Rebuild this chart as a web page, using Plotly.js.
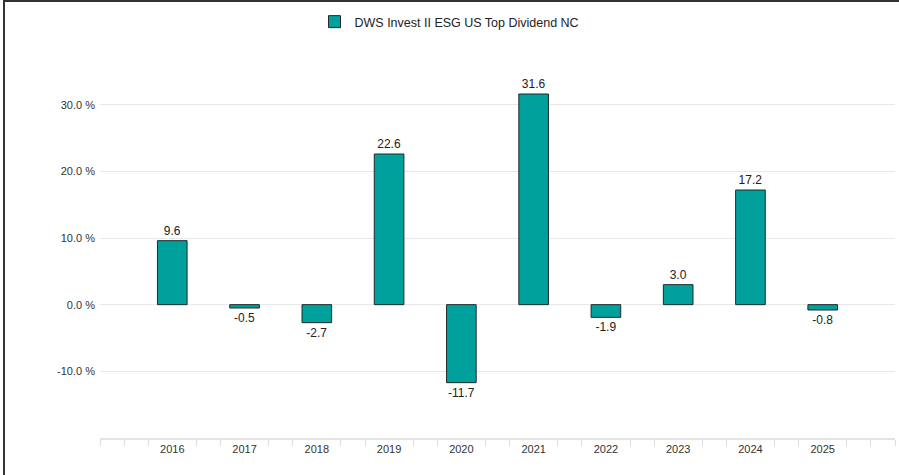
<!DOCTYPE html>
<html>
<head>
<meta charset="utf-8">
<script src="https://cdn.plot.ly/plotly-3.0.1.min.js"></script>
<style>
html,body{margin:0;padding:0;background:#fff;}
#chart{width:899px;height:475px;}
#frame{position:absolute;left:3px;top:0;width:896px;height:475px;border-left:2px solid #333;border-top:2px solid #333;box-sizing:border-box;pointer-events:none;}
</style>
</head>
<body>
<div id="chart"></div>
<div id="frame"></div>
<script>
const seriesName = 'DWS Invest II ESG US Top Dividend NC';
const years = ['2016','2017','2018','2019','2020','2021','2022','2023','2024','2025'];
const returns = [9.6, -0.5, -2.7, 22.6, -11.7, 31.6, -1.9, 3.0, 17.2, -0.8];
const yTickValues = [-20, -10, 0, 10, 20, 30, 40];
const yTickLabels = ['', '-10.0 %', '0.0 %', '10.0 %', '20.0 %', '30.0 %', ''];

const idx = years.map((y, i) => i);
const minorVals = [];
for (let k = -3; k <= 30; k++) { if (k % 3 !== 0 || k === -3 || k === 30) minorVals.push(k / 3); }

const trace = {
  type: 'bar',
  name: seriesName,
  x: idx,
  y: returns,
  width: 0.41,
  marker: {color: '#00A09C', line: {color: '#1e2a2a', width: 1}},
  text: returns.map(v => v.toFixed(1)),
  textposition: 'outside',
  cliponaxis: false,
  textfont: {family: 'Liberation Sans, Arial, sans-serif', size: 12, color: '#222'},
  hoverinfo: 'x+y'
};

const layout = {
  width: 899, height: 475,
  margin: {l: 100, r: 4, t: 38, b: 37},
  paper_bgcolor: '#fff', plot_bgcolor: '#fff',
  font: {family: 'Liberation Sans, Arial, sans-serif', color: '#333', size: 11},
  showlegend: true,
  legend: {
    orientation: 'h', xref: 'container', x: 0.5, xanchor: 'center',
    yref: 'container', y: 1 - 22/475, yanchor: 'middle',
    font: {size: 12.5, color: '#222'}, itemwidth: 30
  },
  bargap: 0.59,
  xaxis: {
    type: 'linear', range: [-1, 10], fixedrange: true,
    tickmode: 'array', tickvals: idx, ticktext: years,
    ticks: '', showgrid: false, zeroline: false,
    showline: true, linecolor: '#e3e3e3', linewidth: 2,
    tickfont: {size: 11, color: '#333'},
    minor: {tickmode: 'array', tickvals: minorVals, ticks: 'outside', ticklen: 6, tickwidth: 1, tickcolor: '#dcdcdc', showgrid: false}
  },
  yaxis: {
    range: [-20, 40], fixedrange: true,
    tickmode: 'array', tickvals: yTickValues, ticktext: yTickLabels,
    ticks: '', showgrid: true, gridcolor: '#e8e8e8', gridwidth: 1,
    zeroline: false, showline: false,
    ticklabelstandoff: 4,
    tickfont: {size: 11, color: '#333'}
  }
};

Plotly.newPlot('chart', [trace], layout, {displayModeBar: false, staticPlot: true});
</script>
</body>
</html>
